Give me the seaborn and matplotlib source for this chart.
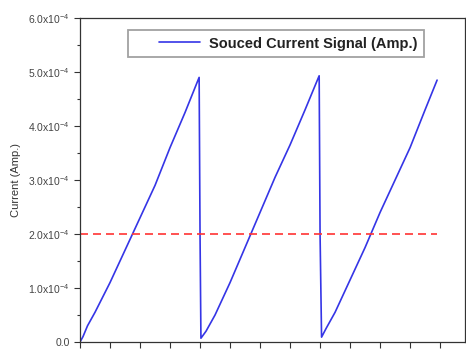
import numpy as np
import pandas as pd
import matplotlib
matplotlib.use("Agg")
import matplotlib.pyplot as plt
import seaborn as sns

# sawtooth current signal (time in tick units, current in A)
time = [0.0, 0.1, 0.25, 0.5, 1.0, 1.5, 2.0, 2.5, 3.0, 3.5, 3.97,
        4.0, 4.03, 4.2, 4.5, 5.0, 5.5, 6.0, 6.5, 7.0, 7.5, 7.97,
        8.0, 8.05, 8.2, 8.5, 9.0, 9.5, 10.0, 10.5, 11.0, 11.5, 11.9]
current = [0.0, 0.1e-4, 0.3e-4, 0.55e-4, 1.1e-4, 1.7e-4, 2.3e-4, 2.9e-4, 3.6e-4, 4.25e-4, 4.9e-4,
           2.0e-4, 0.07e-4, 0.2e-4, 0.5e-4, 1.1e-4, 1.75e-4, 2.4e-4, 3.05e-4, 3.65e-4, 4.3e-4, 4.93e-4,
           2.0e-4, 0.09e-4, 0.25e-4, 0.55e-4, 1.15e-4, 1.75e-4, 2.4e-4, 3.0e-4, 3.6e-4, 4.3e-4, 4.85e-4]
threshold = 2.0e-4
yticks = [0, 1e-4, 2e-4, 3e-4, 4e-4, 5e-4, 6e-4]
ytick_labels = ["0.0", r"$1.0\mathrm{x}10^{-4}$", r"$2.0\mathrm{x}10^{-4}$", r"$3.0\mathrm{x}10^{-4}$",
                r"$4.0\mathrm{x}10^{-4}$", r"$5.0\mathrm{x}10^{-4}$", r"$6.0\mathrm{x}10^{-4}$"]

sns.set_style("ticks")
plt.rcParams['font.family'] = ['Liberation Sans', 'DejaVu Sans']
plt.rcParams['mathtext.fontset'] = 'custom'
plt.rcParams['mathtext.rm'] = 'Liberation Sans'
plt.rcParams['mathtext.it'] = 'Liberation Sans'

df = pd.DataFrame({"time": time, "current": current})

fig = plt.figure(figsize=(4.66, 3.49), dpi=100)
ax = fig.add_axes([80 / 466, 7 / 349, 385 / 466, 324 / 349])

sns.lineplot(data=df, x="time", y="current", ax=ax, color="#3535e6", lw=1.2,
             label="Souced Current Signal (Amp.)", estimator=None, sort=False)
ax.plot([0, 11.9], [threshold, threshold], color="#ff3333", lw=1.2, dashes=(4.8, 3))

ax.set_xlim(0, 12.83)
ax.set_ylim(0, 6e-4)
ax.set_xticks(np.arange(0, 13, 1))
ax.set_xticklabels([])
ax.set_yticks(yticks)
ax.set_yticklabels(ytick_labels, fontsize=7.5, color="#444444")
ax.set_yticks(np.arange(0.5e-4, 6e-4, 1e-4), minor=True)
ax.tick_params(axis="both", which="major", length=4, width=0.8, color="#333333")
ax.tick_params(axis="y", which="minor", length=2, width=0.8, color="#333333")
ax.set_xlabel("")
ax.set_ylabel("Current (Amp.)", fontsize=8, color="#333333", labelpad=5)
for s in ax.spines.values():
    s.set_color("#333333")
    s.set_linewidth(0.9)

leg = ax.legend(loc="upper left", bbox_to_anchor=(48 / 385, 1 - 12 / 324), frameon=True,
                fancybox=False, fontsize=10.5, handlelength=5, handletextpad=0.1,
                borderpad=0.45, borderaxespad=0)
leg.get_frame().set_edgecolor("#8a8a8a")
leg.get_frame().set_linewidth(1.3)
hl = leg.get_lines()[0]
xd = np.asarray(hl.get_xdata(), dtype=float)
yd = np.asarray(hl.get_ydata(), dtype=float)
L = xd.max() - xd.min()
x0 = xd.min()
hl.set_data([x0 + 0.33 * L, x0 + 0.9 * L], [yd.mean(), yd.mean()])
for t in leg.get_texts():
    t.set_fontweight("bold")
    t.set_color("#222222")

fig.savefig("out.png", dpi=100)
